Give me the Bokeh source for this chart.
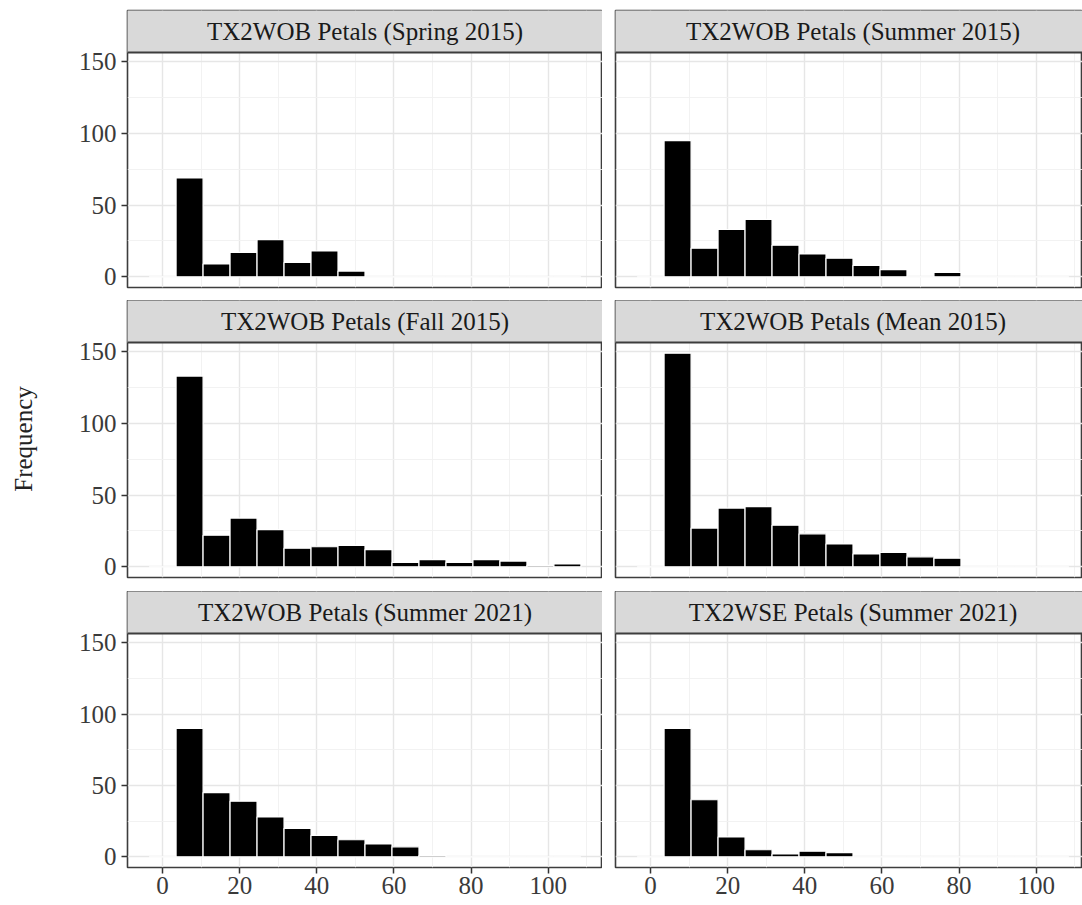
from bokeh.plotting import figure
from bokeh.models import Range1d, FixedTicker, Label, Span
from bokeh.layouts import row, column
from bokeh.embed import file_html
from bokeh.resources import INLINE

# ---------------- data ----------------
bin_width = 7
bin_centers = [0, 7, 14, 21, 28, 35, 42, 49, 56, 63, 70, 77, 84, 91, 98, 105]

panel_titles = [
    "TX2WOB Petals (Spring 2015)",
    "TX2WOB Petals (Summer 2015)",
    "TX2WOB Petals (Fall 2015)",
    "TX2WOB Petals (Mean 2015)",
    "TX2WOB Petals (Summer 2021)",
    "TX2WSE Petals (Summer 2021)",
]

spring_2015 = [0, 69, 9, 17, 26, 10, 18, 4, 0, 0, 0, 0, 0, 0, 0, 0]
summer_2015 = [0, 95, 20, 33, 40, 22, 16, 13, 8, 5, 0, 3, 0, 0, 0, 0]
fall_2015 = [0, 133, 22, 34, 26, 13, 14, 15, 12, 3, 5, 3, 5, 4, 1, 2]
mean_2015 = [0, 149, 27, 41, 42, 29, 23, 16, 9, 10, 7, 6, 0, 0, 0, 0]
wob_summer_2021 = [0, 90, 45, 39, 28, 20, 15, 12, 9, 7, 1, 0, 0, 0, 0, 0]
wse_summer_2021 = [0, 90, 40, 14, 5, 2, 4, 3, 0, 0, 0, 0, 0, 0, 0, 0]

panel_counts = [spring_2015, summer_2015, fall_2015, mean_2015,
                wob_summer_2021, wse_summer_2021]

x_major_ticks = [0, 20, 40, 60, 80, 100]
x_minor_ticks = [10, 30, 50, 70, 90, 110]
y_major_ticks = [0, 50, 100, 150]
y_minor_ticks = [25, 75, 125]
y_axis_title = "Frequency"

# ---------------- style ----------------
SERIF = "Liberation Serif"
FONT_SIZE = "25px"
BORDER = "#3d3d3d"
STRIP_FILL = "#D9D9D9"
GRID_MAJOR = "#E6E6E6"
GRID_MINOR = "#F1F1F1"

LEFT_W, RIGHT_W = 602, 480
LEFT_B, RIGHT_B = 127, 13
FRAME_W_LEFT = LEFT_W - LEFT_B
FRAME_W_RIGHT = RIGHT_W - RIGHT_B
STRIP_H = 42

edges_lo = min(bin_centers) - bin_width / 2
edges_hi = max(bin_centers) + bin_width / 2
span = edges_hi - edges_lo
X0 = edges_lo - 0.05 * span
X1 = edges_hi + 0.05 * span
ymax = max(max(c) for c in panel_counts)
Y0 = -0.05 * ymax
Y1 = ymax * 1.05


def panel_fig(title, counts, is_left, is_bottom, panel_h, top_border,
              bottom_border, ylabel=None):
    width = LEFT_W if is_left else RIGHT_W
    lb = LEFT_B if is_left else RIGHT_B
    fw = FRAME_W_LEFT if is_left else FRAME_W_RIGHT
    x_end = X0 + (X1 - X0) * fw / FRAME_W_LEFT
    y_top = Y1 + STRIP_H * (Y1 - Y0) / panel_h
    height = top_border + STRIP_H + panel_h + bottom_border
    p = figure(width=width, height=height,
               x_range=Range1d(X0, x_end), y_range=Range1d(Y0, y_top),
               output_backend="svg", toolbar_location=None,
               x_axis_location="below" if is_bottom else None,
               y_axis_location="left" if is_left else None,
               min_border_left=lb, min_border_right=0,
               min_border_top=top_border, min_border_bottom=bottom_border)
    p.background_fill_color = "white"
    p.border_fill_color = "white"
    p.outline_line_color = BORDER
    p.outline_line_width = 1.6

    p.xgrid.ticker = FixedTicker(ticks=x_major_ticks, minor_ticks=x_minor_ticks)
    p.ygrid.ticker = FixedTicker(ticks=y_major_ticks, minor_ticks=y_minor_ticks)
    for g in (p.xgrid, p.ygrid):
        g.grid_line_color = GRID_MAJOR
        g.grid_line_width = 1.4
        g.minor_grid_line_color = GRID_MINOR
        g.minor_grid_line_width = 0.9

    lefts = [c - bin_width / 2 for c in bin_centers]
    rights = [c + bin_width / 2 for c in bin_centers]
    p.quad(left=lefts, right=rights, bottom=0, top=counts,
           fill_color="black", line_color="white", line_width=1.2)

    # facet strip (grey box with the panel title)
    p.quad(left=[X0 - 5], right=[x_end + 5], bottom=[Y1], top=[y_top + 5],
           fill_color=STRIP_FILL, line_color=None)
    p.add_layout(Span(location=Y1, dimension="width",
                      line_color=BORDER, line_width=1.8))
    p.add_layout(Label(x=(X0 + X1) / 2, y=(Y1 + y_top) / 2, text=title,
                       text_align="center", text_baseline="middle",
                       text_font=SERIF, text_font_size=FONT_SIZE,
                       text_color="#1A1A1A"))

    axes = []
    if is_bottom:
        p.xaxis.ticker = FixedTicker(ticks=x_major_ticks, minor_ticks=[])
        axes.append(p.xaxis)
    if is_left:
        p.yaxis.ticker = FixedTicker(ticks=y_major_ticks, minor_ticks=[])
        axes.append(p.yaxis)
    for ax in axes:
        ax.axis_line_color = None
        ax.minor_tick_line_color = None
        ax.major_tick_in = 0
        ax.major_tick_out = 6
        ax.major_tick_line_color = "#333333"
        ax.major_tick_line_width = 1.5
        ax.major_label_text_font = SERIF
        ax.major_label_text_font_size = FONT_SIZE
        ax.major_label_text_color = "#3a3a3a"
    if is_bottom:
        p.xaxis.major_label_standoff = 3
    if is_left:
        p.yaxis.major_label_standoff = 5
    if ylabel:
        p.yaxis.axis_label = ylabel
        p.yaxis.axis_label_text_font = SERIF
        p.yaxis.axis_label_text_font_size = FONT_SIZE
        p.yaxis.axis_label_text_font_style = "normal"
        p.yaxis.axis_label_text_color = "#222222"
        p.yaxis.axis_label_standoff = 39
    return p


panel_heights = [235, 235, 234]
top_borders = [10, 0, 0]
bottom_borders = [13, 14, 38]

cols = []
for ci in range(2):
    kids = []
    for ri in range(3):
        idx = ri * 2 + ci
        is_left = ci == 0
        kids.append(panel_fig(panel_titles[idx], panel_counts[idx], is_left,
                              ri == 2, panel_heights[ri], top_borders[ri],
                              bottom_borders[ri],
                              ylabel=y_axis_title if (is_left and ri == 1) else None))
    cols.append(column(*kids, spacing=0))

layout = row(*cols, spacing=0)

open("out.html", "w").write(file_html(layout, INLINE))
